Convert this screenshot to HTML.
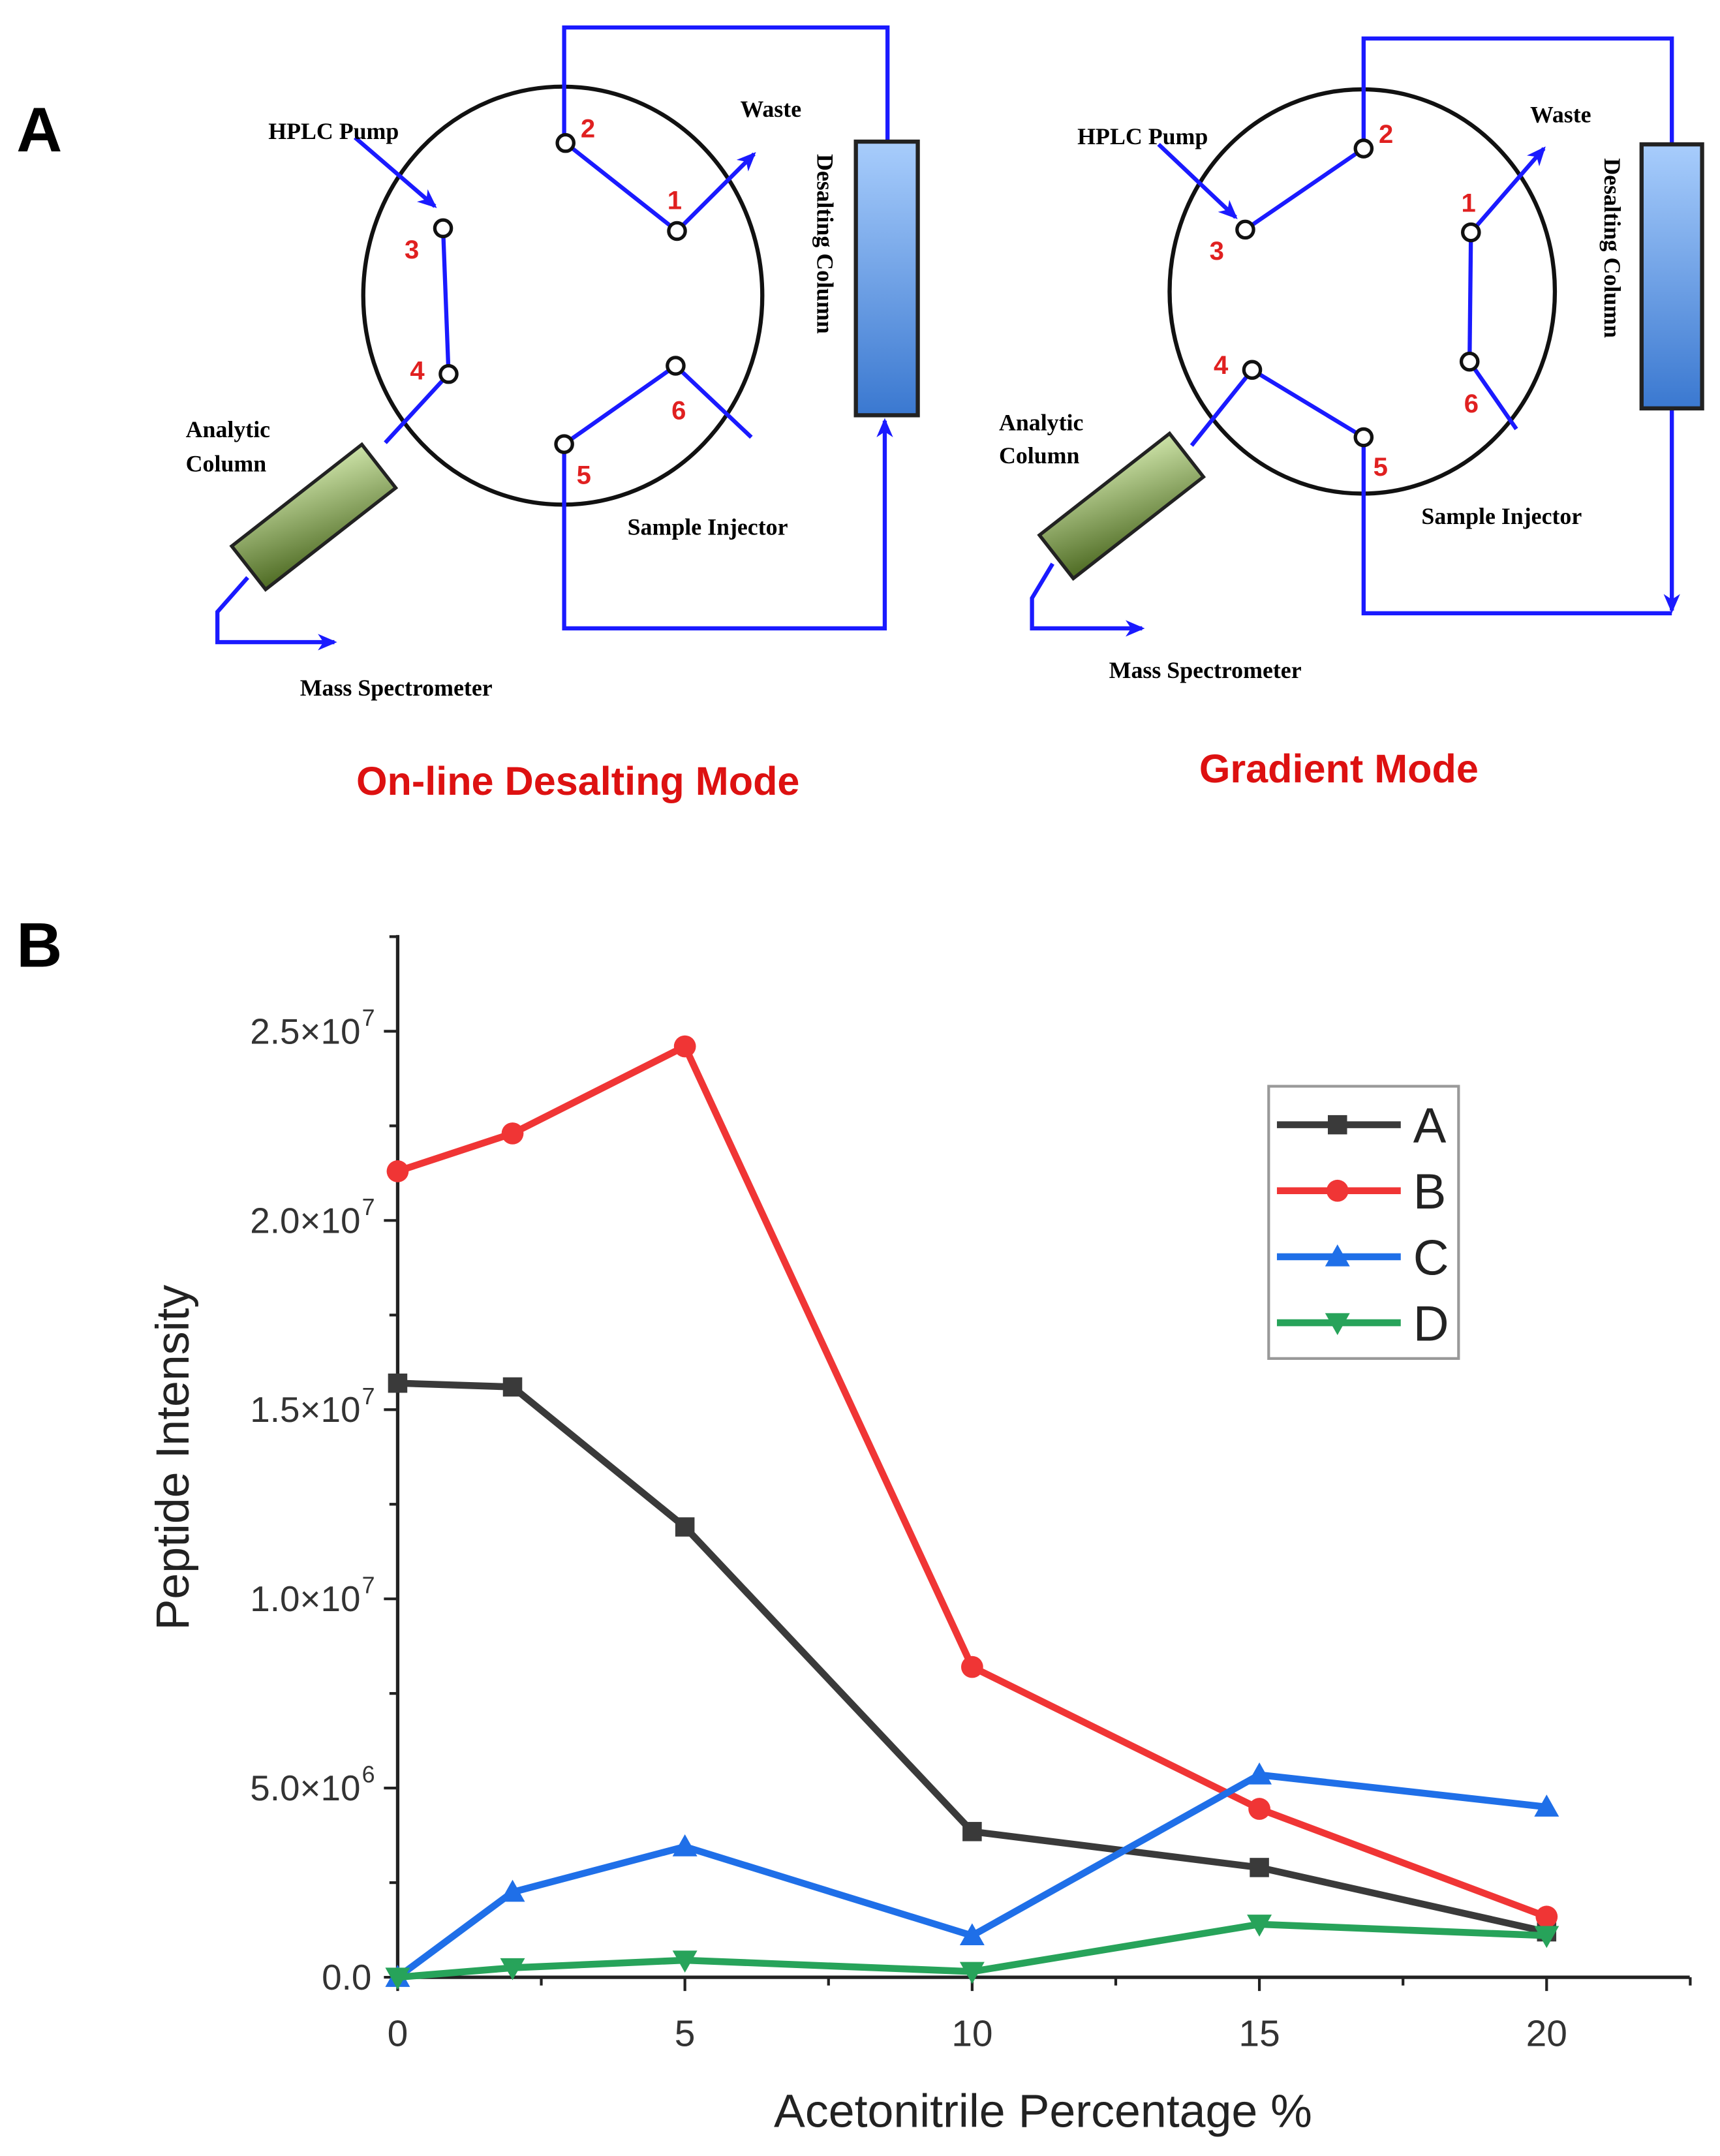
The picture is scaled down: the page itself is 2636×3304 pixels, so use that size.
<!DOCTYPE html>
<html><head><meta charset="utf-8"><style>
html,body{margin:0;padding:0;background:#fff}
svg{display:block}
.serif{font-family:"Liberation Serif",serif;font-weight:bold}
.num{font-family:"Liberation Sans",sans-serif;font-weight:bold;fill:#e02020;font-size:19px}
.ax{font-family:"Liberation Sans",sans-serif}
</style></head><body>
<svg id="fig" width="2636" height="3304" viewBox="0 0 1250 1568" preserveAspectRatio="none">
<defs>
<linearGradient id="blueg" x1="0" y1="0" x2="0" y2="1"><stop offset="0" stop-color="#a8cdfc"/><stop offset="1" stop-color="#3a78d0"/></linearGradient>
<linearGradient id="greeng" x1="1" y1="0" x2="0" y2="1"><stop offset="0" stop-color="#cde3a8"/><stop offset="1" stop-color="#4d6a22"/></linearGradient>
<marker id="arr" markerUnits="userSpaceOnUse" markerWidth="14" markerHeight="12" refX="12" refY="6" orient="auto"><path d="M0,0 L14,6 L0,12 L4,6 z" fill="#1a1aff"/></marker>
</defs>
<g>
<text x="12" y="110" font-family="Liberation Sans" font-weight="bold" font-size="46">A</text>
<g stroke="#1a1aff" stroke-width="3" fill="none">
<ellipse cx="409" cy="215" rx="145" ry="152" stroke="#111" stroke-width="3"/>
<polyline points="410,104 410,20 645,20 645,103"/>
<polyline points="410,323 410,457 643,457 643,306" marker-end="url(#arr)"/>
<line x1="411" y1="104" x2="492" y2="168"/>
<line x1="492" y1="168" x2="548" y2="112" marker-end="url(#arr)"/>
<line x1="258" y1="100" x2="316" y2="150" marker-end="url(#arr)"/>
<line x1="322" y1="166" x2="326" y2="272"/>
<line x1="326" y1="272" x2="280" y2="322"/>
<line x1="410" y1="323" x2="491" y2="266"/>
<line x1="491" y1="266" x2="546" y2="318"/>
<polyline points="180,420 158,445 158,467 243,467" marker-end="url(#arr)"/>
<rect x="622" y="103" width="45" height="199" fill="url(#blueg)" stroke="#222" stroke-width="3"/>
<rect x="-60" y="-20" width="120" height="40" fill="url(#greeng)" stroke="#222" stroke-width="2.5" transform="translate(228,376) rotate(-38)"/>
</g>
<g fill="#fff" stroke="#111" stroke-width="2.5">
<circle cx="411" cy="104" r="6"/><circle cx="492" cy="168" r="6"/><circle cx="322" cy="166" r="6"/><circle cx="326" cy="272" r="6"/><circle cx="491" cy="266" r="6"/><circle cx="410" cy="323" r="6"/>
</g>
<text class="num" x="422" y="100">2</text><text class="num" x="485" y="152">1</text><text class="num" x="294" y="188">3</text><text class="num" x="298" y="276">4</text><text class="num" x="488" y="305">6</text><text class="num" x="419" y="352">5</text>
<text class="serif" x="195" y="101" font-size="17">HPLC Pump</text>
<text class="serif" x="538" y="85" font-size="17">Waste</text>
<text class="serif" x="0" y="0" font-size="17" transform="translate(594,112) rotate(90)">Desalting Column</text>
<text class="serif" x="135" y="318" font-size="17">Analytic</text>
<text class="serif" x="135" y="343" font-size="17">Column</text>
<text class="serif" x="456" y="389" font-size="17">Sample Injector</text>
<text class="serif" x="218" y="506" font-size="17">Mass Spectrometer</text>
<text x="420" y="578" text-anchor="middle" font-family="Liberation Sans" font-weight="bold" font-size="29" fill="#dd1111">On-line Desalting Mode</text>
<g stroke="#1a1aff" stroke-width="3" fill="none">
<ellipse cx="990" cy="212" rx="140" ry="147" stroke="#111" stroke-width="3"/>
<polyline points="991,108 991,28 1215,28 1215,105"/>
<polyline points="1215,297 1215,444" marker-end="url(#arr)"/>
<polyline points="991,318 991,446 1215,446"/>
<line x1="905" y1="167" x2="991" y2="108"/>
<line x1="1069" y1="169" x2="1122" y2="108" marker-end="url(#arr)"/>
<line x1="842" y1="105" x2="898" y2="158" marker-end="url(#arr)"/>
<line x1="1069" y1="169" x2="1068" y2="263"/>
<line x1="1068" y1="263" x2="1102" y2="312"/>
<line x1="910" y1="269" x2="991" y2="318"/>
<line x1="910" y1="269" x2="866" y2="324"/>
<polyline points="765,410 750,435 750,457 830,457" marker-end="url(#arr)"/>
<rect x="1193" y="105" width="44" height="192" fill="url(#blueg)" stroke="#222" stroke-width="3"/>
<rect x="-60" y="-20" width="120" height="40" fill="url(#greeng)" stroke="#222" stroke-width="2.5" transform="translate(815,368) rotate(-38)"/>
</g>
<g fill="#fff" stroke="#111" stroke-width="2.5">
<circle cx="991" cy="108" r="6"/><circle cx="1069" cy="169" r="6"/><circle cx="905" cy="167" r="6"/><circle cx="910" cy="269" r="6"/><circle cx="1068" cy="263" r="6"/><circle cx="991" cy="318" r="6"/>
</g>
<text class="num" x="1002" y="104">2</text><text class="num" x="1062" y="154">1</text><text class="num" x="879" y="189">3</text><text class="num" x="882" y="272">4</text><text class="num" x="1064" y="300">6</text><text class="num" x="998" y="346">5</text>
<text class="serif" x="783" y="105" font-size="17">HPLC Pump</text>
<text class="serif" x="1112" y="89" font-size="17">Waste</text>
<text class="serif" x="0" y="0" font-size="17" transform="translate(1166,115) rotate(90)">Desalting Column</text>
<text class="serif" x="726" y="313" font-size="17">Analytic</text>
<text class="serif" x="726" y="337" font-size="17">Column</text>
<text class="serif" x="1033" y="381" font-size="17">Sample Injector</text>
<text class="serif" x="806" y="493" font-size="17">Mass Spectrometer</text>
<text x="973" y="569" text-anchor="middle" font-family="Liberation Sans" font-weight="bold" font-size="29" fill="#dd1111">Gradient Mode</text>
</g>
<g id="chart">
<text x="12" y="703" font-family="Liberation Sans" font-weight="bold" font-size="46">B</text>
</g>
</svg>
<script>
const xValues=[0,2,5,10,15,20];
const seriesA=[1.57e7,1.56e7,1.19e7,3.85e6,2.9e6,1.2e6];
const seriesB=[2.13e7,2.23e7,2.46e7,8.2e6,4.45e6,1.6e6];
const seriesC=[0,2.25e6,3.45e6,1.1e6,5.35e6,4.5e6];
const seriesD=[0,2.5e5,4.5e5,1.5e5,1.4e6,1.1e6];
const seriesNames=["A","B","C","D"];
const yTicks=[0,5e6,1e7,1.5e7,2e7,2.5e7];
const yTickLabels=["0.0","5.0×10","1.0×10","1.5×10","2.0×10","2.5×10"];
const yTickExps=["","6","7","7","7","7"];
const xTicks=[0,5,10,15,20];
const NS="http://www.w3.org/2000/svg";
const g=document.getElementById('chart');
const X0=289,XS=(1124-289)/20,Y0=1438,YS=(1438-750)/2.5e7;
const xs=v=>X0+v*XS, ys=v=>Y0-v*YS;
function mk(t,a,p){const e=document.createElementNS(NS,t);for(const k in a)e.setAttribute(k,a[k]);(p||g).appendChild(e);return e;}
let e;
e=mk('line',{x1:289,y1:680,x2:289,y2:1440,stroke:'#222','stroke-width':2.5});


e=mk('line',{x1:287,y1:1438,x2:1228,y2:1438,stroke:'#222','stroke-width':2.5});


for(let v=0;v<=2.75e7;v+=2.5e6){const major=(Math.round(v/2.5e6)%2===0);mk('line',{x1:289,y1:ys(v),x2:289-(major?10:6),y2:ys(v),stroke:'#222','stroke-width':2});}
for(let v=0;v<=22.5;v+=2.5){const major=(v%5===0);mk('line',{x1:xs(v),y1:1438,x2:xs(v),y2:1438+(major?10:6),stroke:'#222','stroke-width':2});}
yTicks.forEach((v,i)=>{const t=mk('text',{x:yTickExps[i]?262:270,y:ys(v)+9,'text-anchor':'end','font-size':26,fill:'#333',class:'ax'});t.textContent=yTickLabels[i];


if(yTickExps[i]){const s=mk('text',{x:263,y:ys(v)-4,'font-size':17,fill:'#333',class:'ax'});s.textContent=yTickExps[i];}});
xTicks.forEach(v=>{const t=mk('text',{x:xs(v),y:1488,'text-anchor':'middle','font-size':27,fill:'#333',class:'ax'});t.textContent=v;

});
e=mk('text',{x:758,y:1547,'text-anchor':'middle','font-size':34,fill:'#222',class:'ax'});e.textContent='Acetonitrile Percentage %';


e=mk('text',{x:0,y:0,'text-anchor':'middle','font-size':34,fill:'#222',class:'ax',transform:'translate(137,1060) rotate(-90)'});e.textContent='Peptide Intensity';


const colors=['#3a3a3a','#f03535','#1f6fe8','#27a35a'];
const all=[seriesA,seriesB,seriesC,seriesD];
function marker(k,x,y,p){
 if(k===0) return mk('rect',{x:x-7,y:y-7,width:14,height:14,fill:colors[0]},p);
 if(k===1) return mk('circle',{cx:x,cy:y,r:8,fill:colors[1]},p);
 if(k===2) return mk('path',{d:`M${x},${y-9} L${x+9},${y+7} L${x-9},${y+7} Z`,fill:colors[2]},p);
 return mk('path',{d:`M${x},${y+9} L${x+9},${y-7} L${x-9},${y-7} Z`,fill:colors[3]},p);
}
all.forEach((s,k)=>{
 const grp=mk('g',{});
 
 
 const pl=mk('polyline',{points:s.map((v,i)=>xs(xValues[i])+','+ys(v)).join(' '),fill:'none',stroke:colors[k],'stroke-width':5,'stroke-linejoin':'round'},grp);
 
 
 s.forEach((v,i)=>{const m=marker(k,xs(xValues[i]),ys(v),grp);
 
 });
});
const lg=mk('g',{});


mk('rect',{x:922,y:790,width:138,height:198,fill:'#fff',stroke:'#999','stroke-width':2},lg);
seriesNames.forEach((n,k)=>{const y=818+k*48;
 const ent=mk('g',{},lg);
 
 
 mk('line',{x1:928,y1:y,x2:1018,y2:y,stroke:colors[k],'stroke-width':5},ent);
 marker(k,972,y,ent);
 const t=mk('text',{x:1027,y:y+13,'font-size':36,fill:'#222',class:'ax'},ent);t.textContent=n;});
</script>
</body></html>
